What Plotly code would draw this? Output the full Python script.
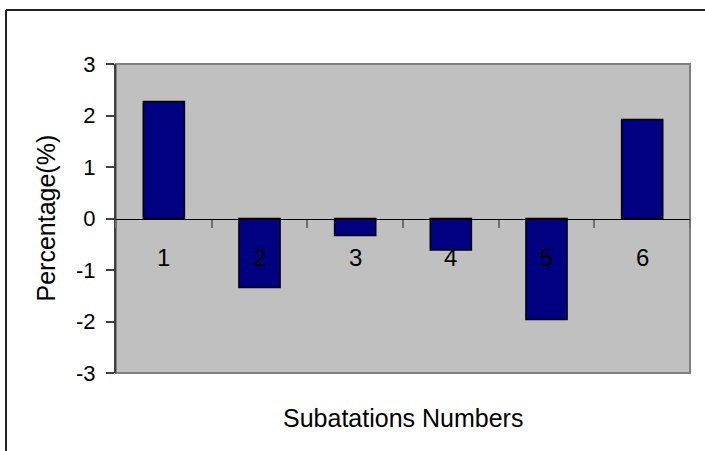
import plotly.graph_objects as go

categories = ["1", "2", "3", "4", "5", "6"]
values = [2.27, -1.34, -0.33, -0.61, -1.96, 1.92]
y_ticks = [-3, -2, -1, 0, 1, 2, 3]
y_tick_text = ["-3", "-2", "-1", "0", "1", "2", "3"]
x_title = "Subatations Numbers"
y_title = "Percentage(%)"

W, H = 705, 451
L, R, T, B = 116, 15, 64, 78
pw = W - L - R
ph = H - T - B

def px_x(p):
    return (p - L) / pw

def px_y(p):
    return (H - B - p) / ph

FONT = "Liberation Sans, Arial, sans-serif"

fig = go.Figure()
fig.add_trace(go.Bar(
    x=categories, y=values,
    marker=dict(color="#000080", line=dict(color="#000000", width=1.5)),
    showlegend=False, hoverinfo="skip",
))

annotations = []
for i, c in enumerate(categories):
    annotations.append(dict(x=i, y=0, xref="x", yref="y", text=c, showarrow=False,
                            yshift=-39, yanchor="middle", xanchor="center",
                            font=dict(family=FONT, size=24, color="black")))
annotations.append(dict(x=0.5, y=px_y(418), xref="paper", yref="paper", text=x_title,
                        showarrow=False, xanchor="center", yanchor="middle",
                        font=dict(family=FONT, size=25, color="black")))
annotations.append(dict(x=px_x(45), y=0.5, xref="paper", yref="paper", text=y_title,
                        showarrow=False, xanchor="center", yanchor="middle", textangle=-90,
                        font=dict(family=FONT, size=25, color="black")))

shapes = [
    dict(type="rect", xref="paper", yref="paper", x0=0, x1=1, y0=0, y1=1,
         line=dict(color="#808080", width=2), layer="below"),
    dict(type="line", xref="paper", yref="paper", x0=px_x(6), x1=px_x(720), y0=px_y(10), y1=px_y(10),
         line=dict(color="#222222", width=2)),
    dict(type="line", xref="paper", yref="paper", x0=px_x(6), x1=px_x(6), y0=px_y(10), y1=px_y(470),
         line=dict(color="#222222", width=2)),
]

fig.update_layout(
    width=W, height=H,
    margin=dict(l=L, r=R, t=T, b=B),
    paper_bgcolor="white", plot_bgcolor="#C0C0C0",
    bargap=0.57,
    annotations=annotations, shapes=shapes,
    xaxis=dict(type="category", range=[-0.5, 5.5], anchor="free", position=0.5,
               showticklabels=False, showgrid=False, zeroline=False,
               showline=True, linecolor="black", linewidth=1,
               ticks="outside", tickson="boundaries", ticklen=8, tickwidth=2, tickcolor="#707070"),
    yaxis=dict(range=[-3, 3], tickvals=y_ticks, ticktext=y_tick_text, ticks="outside", ticklen=8,
               tickwidth=1.5, tickcolor="#404040", showline=True, linecolor="#404040", linewidth=2,
               showgrid=False, zeroline=False, ticklabelstandoff=6,
               tickfont=dict(family=FONT, size=22, color="black")),
)

fig.write_html("out.html")
